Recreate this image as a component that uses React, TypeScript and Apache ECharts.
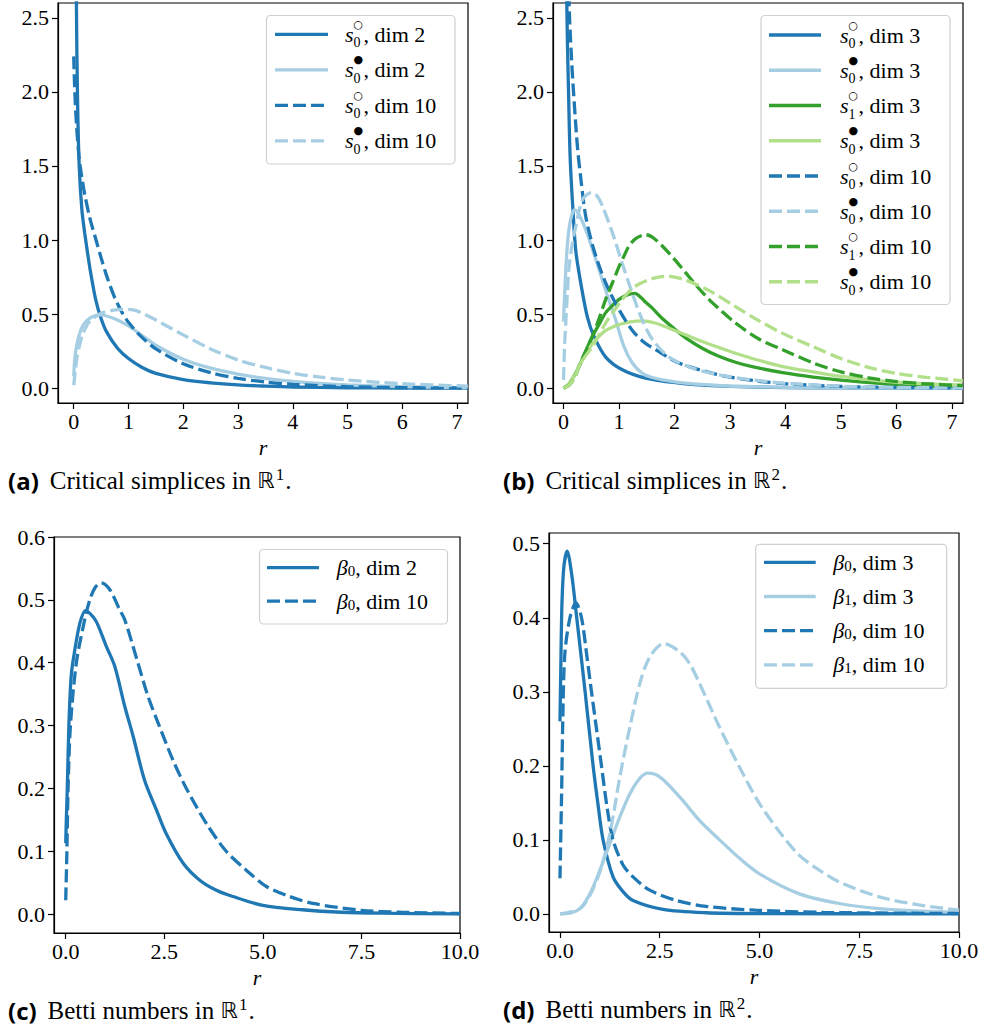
import React, { useEffect, useRef } from "react";
import * as echarts from "echarts";

const DARK_BLUE = "#1f78b4";
const LIGHT_BLUE = "#a6cee3";
const DARK_GREEN = "#33a02c";
const LIGHT_GREEN = "#b2df8a";
const SERIF = "Liberation Serif";
const SANS = "DejaVu Sans";
const BOLD_SANS = "Open Sans";

// ---------- (a) Critical simplices in R^1 : [r, value] ----------
const aS0OpenDim2 = [[0.02,4.5],[0.05,2.55],[0.07,1.95],[0.1,1.5],[0.15,1.2],[0.2,1.05],[0.25,0.92],[0.3,0.8],[0.4,0.6],[0.5,0.47],[0.6,0.38],[0.8,0.27],[1.0,0.2],[1.25,0.14],[1.5,0.1],[2.0,0.058],[2.5,0.036],[3.0,0.022],[3.5,0.014],[4.0,0.008],[5.0,0.003],[6.0,0.0012],[7.2,0.0004]];
const aS0FullDim2 = [[0,0.08],[0.02,0.2],[0.05,0.28],[0.1,0.36],[0.15,0.41],[0.2,0.44],[0.3,0.475],[0.4,0.49],[0.5,0.495],[0.6,0.487],[0.8,0.46],[1.0,0.42],[1.25,0.355],[1.5,0.29],[2.0,0.195],[2.5,0.135],[3.0,0.095],[3.5,0.066],[4.0,0.046],[4.5,0.032],[5.0,0.022],[6.0,0.01],[7.2,0.004]];
const aS0OpenDim10 = [[0,2.24],[0.02,2.0],[0.05,1.78],[0.1,1.55],[0.15,1.42],[0.2,1.31],[0.3,1.14],[0.4,1.01],[0.5,0.88],[0.6,0.76],[0.75,0.61],[0.9,0.5],[1.0,0.445],[1.2,0.36],[1.5,0.265],[2.0,0.165],[2.5,0.105],[3.0,0.066],[3.5,0.042],[4.0,0.026],[5.0,0.01],[6.0,0.004],[7.2,0.0015]];
const aS0FullDim10 = [[0,0.02],[0.03,0.12],[0.06,0.21],[0.1,0.28],[0.16,0.36],[0.25,0.43],[0.32,0.46],[0.5,0.505],[0.7,0.525],[0.9,0.532],[1.05,0.53],[1.2,0.515],[1.5,0.46],[1.75,0.41],[2.0,0.36],[2.5,0.265],[3.0,0.19],[3.5,0.14],[4.0,0.1],[4.5,0.075],[5.0,0.055],[6.0,0.03],[7.2,0.014]];

// ---------- (b) Critical simplices in R^2 ----------
const bS0OpenDim3 = [[0.02,4.5],[0.06,2.55],[0.09,2.0],[0.12,1.55],[0.17,1.2],[0.22,0.93],[0.31,0.71],[0.43,0.48],[0.55,0.35],[0.76,0.21],[1.06,0.124],[1.48,0.068],[2.08,0.034],[2.5,0.021],[3.0,0.012],[4.0,0.004],[5.0,0.0015],[7.2,0.0003]];
const bS0FullDim3 = [[0,0.45],[0.03,0.72],[0.066,0.95],[0.1,1.08],[0.15,1.17],[0.2,1.205],[0.28,1.17],[0.4,1.07],[0.58,0.87],[0.76,0.66],[0.94,0.46],[1.09,0.28],[1.24,0.17],[1.42,0.1],[1.6,0.072],[1.78,0.056],[2.2,0.034],[2.8,0.018],[3.5,0.009],[4.5,0.004],[5.5,0.002],[7.2,0.0005]];
const bS1OpenDim3 = [[0,0],[0.1,0.03],[0.2,0.09],[0.28,0.146],[0.4,0.25],[0.52,0.35],[0.64,0.43],[0.76,0.51],[0.9,0.565],[1.0,0.6],[1.15,0.63],[1.29,0.64],[1.4,0.61],[1.48,0.58],[1.6,0.54],[1.78,0.47],[2.0,0.4],[2.2,0.34],[2.5,0.27],[2.8,0.215],[3.1,0.175],[3.4,0.145],[3.95,0.105],[4.5,0.075],[5.0,0.055],[6.0,0.025],[7.2,0.01]];
const bS1FullDim3 = [[0,0],[0.1,0.03],[0.2,0.09],[0.28,0.146],[0.4,0.23],[0.52,0.3],[0.64,0.35],[0.76,0.39],[0.9,0.415],[1.0,0.43],[1.2,0.448],[1.42,0.455],[1.65,0.44],[1.9,0.405],[2.2,0.36],[2.5,0.315],[2.8,0.275],[3.1,0.236],[3.5,0.19],[3.95,0.146],[4.5,0.11],[5.0,0.08],[6.0,0.04],[7.2,0.02]];
const bS0OpenDim10 = [[0.04,4.0],[0.1,2.6],[0.14,2.25],[0.18,2.0],[0.25,1.63],[0.31,1.42],[0.4,1.16],[0.55,0.93],[0.76,0.71],[1.0,0.53],[1.24,0.39],[1.45,0.31],[1.66,0.26],[2.08,0.17],[2.69,0.1],[3.0,0.075],[3.5,0.048],[4.0,0.03],[5.0,0.012],[6.0,0.005],[7.2,0.002]];
const bS0FullDim10 = [[0,0.056],[0.02,0.3],[0.04,0.44],[0.07,0.65],[0.1,0.82],[0.16,0.98],[0.22,1.09],[0.34,1.27],[0.5,1.32],[0.6,1.3],[0.7,1.23],[0.88,1.05],[1.06,0.84],[1.24,0.64],[1.42,0.46],[1.6,0.33],[1.9,0.21],[2.33,0.135],[2.8,0.09],[3.4,0.056],[4.0,0.033],[5.0,0.013],[6.0,0.005],[7.2,0.002]];
const bS1OpenDim10 = [[0,0],[0.1,0.02],[0.2,0.07],[0.28,0.15],[0.4,0.25],[0.52,0.35],[0.64,0.47],[0.76,0.6],[0.88,0.71],[1.0,0.82],[1.1,0.9],[1.18,0.96],[1.3,1.01],[1.48,1.036],[1.6,1.02],[1.78,0.96],[2.0,0.87],[2.2,0.78],[2.4,0.69],[2.62,0.6],[2.85,0.52],[3.1,0.44],[3.53,0.33],[3.95,0.26],[4.5,0.17],[5.0,0.11],[5.5,0.07],[6.0,0.045],[6.5,0.03],[7.2,0.018]];
const bS1FullDim10 = [[0,0],[0.1,0.02],[0.2,0.07],[0.28,0.15],[0.4,0.22],[0.52,0.28],[0.76,0.44],[1.0,0.57],[1.15,0.64],[1.3,0.69],[1.6,0.74],[1.84,0.755],[2.0,0.75],[2.2,0.73],[2.62,0.66],[3.1,0.55],[3.5,0.46],[3.95,0.37],[4.5,0.28],[5.0,0.2],[5.5,0.14],[6.0,0.1],[6.5,0.075],[7.2,0.05]];

// ---------- (c) Betti numbers in R^1 ----------
const cB0Dim2 = [[0,0.113],[0.02,0.16],[0.04,0.2],[0.08,0.3],[0.14,0.38],[0.23,0.42],[0.36,0.463],[0.5,0.483],[0.62,0.478],[0.78,0.465],[1.03,0.426],[1.24,0.395],[1.5,0.33],[1.71,0.283],[2.0,0.213],[2.3,0.166],[2.55,0.128],[2.98,0.081],[3.4,0.054],[3.82,0.038],[4.24,0.028],[5.0,0.014],[6.0,0.007],[7.0,0.003],[8.0,0.0015],[10,0.0003]];
const cB0Dim10 = [[0,0.022],[0.03,0.1],[0.06,0.2],[0.12,0.3],[0.27,0.4],[0.48,0.468],[0.61,0.5],[0.75,0.52],[0.9,0.527],[1.12,0.516],[1.37,0.484],[1.5,0.468],[1.83,0.4],[2.09,0.346],[2.37,0.3],[2.72,0.245],[3.06,0.2],[3.57,0.144],[4.07,0.1],[4.58,0.07],[5.09,0.044],[5.68,0.028],[6.27,0.017],[7.5,0.006],[8.5,0.003],[10,0.001]];

// ---------- (d) Betti numbers in R^2 ----------
const dB0Dim3 = [[0,0.26],[0.02,0.33],[0.05,0.42],[0.1,0.47],[0.18,0.49],[0.29,0.46],[0.42,0.4],[0.63,0.3],[0.83,0.2],[0.96,0.145],[1.08,0.1],[1.33,0.05],[1.58,0.03],[1.83,0.018],[2.58,0.006],[3.67,0.0015],[5,0.0004],[10,0]];
const dB1Dim3 = [[0,0],[0.25,0.001],[0.5,0.007],[0.75,0.027],[1.0,0.059],[1.25,0.095],[1.5,0.131],[1.75,0.162],[2.0,0.183],[2.2,0.19],[2.5,0.185],[3.0,0.158],[3.5,0.126],[4.0,0.1],[4.5,0.075],[5.0,0.054],[6.0,0.027],[7.0,0.014],[8.0,0.007],[9.0,0.004],[10,0.002]];
const dB0Dim10 = [[0,0.048],[0.04,0.16],[0.07,0.26],[0.12,0.35],[0.25,0.4],[0.4,0.42],[0.54,0.4],[0.67,0.35],[0.79,0.3],[0.92,0.248],[1.04,0.2],[1.18,0.144],[1.33,0.1],[1.58,0.066],[1.83,0.05],[2.25,0.032],[2.92,0.018],[3.67,0.01],[4.9,0.005],[6.6,0.002],[10,0.0005]];
const dB1Dim10 = [[0,0],[0.5,0.007],[0.75,0.025],[1.0,0.057],[1.25,0.108],[1.5,0.185],[1.75,0.252],[2.0,0.311],[2.25,0.347],[2.6,0.365],[3.0,0.354],[3.25,0.338],[3.5,0.311],[4.0,0.252],[4.5,0.198],[5.0,0.149],[5.5,0.111],[6.0,0.079],[6.5,0.059],[7.0,0.043],[8.0,0.023],[9.0,0.012],[10,0.005]];

// ---------- tick labels ----------
const ticksR7 = [0, 1, 2, 3, 4, 5, 6, 7];
const ticksR10 = [0, 2.5, 5, 7.5, 10];
const ticksCrit = [0, 0.5, 1, 1.5, 2, 2.5];
const ticksBetti1 = [0, 0.1, 0.2, 0.3, 0.4, 0.5, 0.6];
const ticksBetti2 = [0, 0.1, 0.2, 0.3, 0.4, 0.5];

const DASH = [13, 5];
const LW = 3.3;

function sLabel(k: string, filled: boolean, dim: string) {
  return filled
    ? `{it|s}{supf|●}{sub|${k}}{t|, dim ${dim}}`
    : `{it|s}{supo|○}{sub|${k}}{t|, dim ${dim}}`;
}
function bLabel(k: string, dim: string) {
  return `{it|β}{subb|${k}}{t|, dim ${dim}}`;
}

type Entry = { data: number[][]; color: string; dashed: boolean; label: string };

const panels = [
  {
    grid: { left: 58, top: 3, width: 410, height: 400 },
    xMin: -0.287, xMax: 7.2, xTicks: ticksR7, xDec: 0,
    yMin: -0.1, yMax: 2.6, yTicks: ticksCrit,
    entries: [
      { data: aS0OpenDim2, color: DARK_BLUE, dashed: false, label: sLabel("0", false, "2") },
      { data: aS0FullDim2, color: LIGHT_BLUE, dashed: false, label: sLabel("0", true, "2") },
      { data: aS0OpenDim10, color: DARK_BLUE, dashed: true, label: sLabel("0", false, "10") },
      { data: aS0FullDim10, color: LIGHT_BLUE, dashed: true, label: sLabel("0", true, "10") },
    ] as Entry[],
    legend: { x: 266.5, y: 15.5, w: 188.5, h: 148.5, row0: 34.3, pitch: 35.5, lx1: 275, lx2: 328, tx: 345 },
    caption: { x: 8, y: 480, tag: "(a)", text: "Critical simplices in ", sup: "1" },
  },
  {
    grid: { left: 553, top: 3, width: 410, height: 400 },
    xMin: -0.19, xMax: 7.2, xTicks: ticksR7, xDec: 0,
    yMin: -0.1, yMax: 2.6, yTicks: ticksCrit,
    entries: [
      { data: bS0OpenDim3, color: DARK_BLUE, dashed: false, label: sLabel("0", false, "3") },
      { data: bS0FullDim3, color: LIGHT_BLUE, dashed: false, label: sLabel("0", true, "3") },
      { data: bS1OpenDim3, color: DARK_GREEN, dashed: false, label: sLabel("1", false, "3") },
      { data: bS1FullDim3, color: LIGHT_GREEN, dashed: false, label: sLabel("0", true, "3") },
      { data: bS0OpenDim10, color: DARK_BLUE, dashed: true, label: sLabel("0", false, "10") },
      { data: bS0FullDim10, color: LIGHT_BLUE, dashed: true, label: sLabel("0", true, "10") },
      { data: bS1OpenDim10, color: DARK_GREEN, dashed: true, label: sLabel("1", false, "10") },
      { data: bS1FullDim10, color: LIGHT_GREEN, dashed: true, label: sLabel("0", true, "10") },
    ] as Entry[],
    legend: { x: 761, y: 15.5, w: 189, h: 289, row0: 35, pitch: 35.25, lx1: 769, lx2: 821, tx: 840 },
    caption: { x: 503, y: 480, tag: "(b)", text: "Critical simplices in ", sup: "2" },
  },
  {
    grid: { left: 54, top: 537, width: 406, height: 396 },
    xMin: -0.297, xMax: 10, xTicks: ticksR10, xDec: 1,
    yMin: -0.03, yMax: 0.6, yTicks: ticksBetti1,
    entries: [
      { data: cB0Dim2, color: DARK_BLUE, dashed: false, label: bLabel("0", "2") },
      { data: cB0Dim10, color: DARK_BLUE, dashed: true, label: bLabel("0", "10") },
    ] as Entry[],
    legend: { x: 259.5, y: 549.5, w: 188, h: 74.5, row0: 567.7, pitch: 33.5, lx1: 267, lx2: 319, tx: 336.7 },
    caption: { x: 8, y: 1010, tag: "(c)", text: "Betti numbers in ", sup: "1" },
  },
  {
    grid: { left: 549, top: 533, width: 410, height: 399 },
    xMin: -0.275, xMax: 10, xTicks: ticksR10, xDec: 1,
    yMin: -0.0245, yMax: 0.5145, yTicks: ticksBetti2,
    entries: [
      { data: dB0Dim3, color: DARK_BLUE, dashed: false, label: bLabel("0", "3") },
      { data: dB1Dim3, color: LIGHT_BLUE, dashed: false, label: bLabel("1", "3") },
      { data: dB0Dim10, color: DARK_BLUE, dashed: true, label: bLabel("0", "10") },
      { data: dB1Dim10, color: LIGHT_BLUE, dashed: true, label: bLabel("1", "10") },
    ] as Entry[],
    legend: { x: 755.7, y: 544.3, w: 191, h: 144, row0: 562.3, pitch: 34.2, lx1: 764, lx2: 815.7, tx: 833.3 },
    caption: { x: 503, y: 1009.5, tag: "(d)", text: "Betti numbers in ", sup: "2" },
  },
];

const legendRich = {
  it: { fontFamily: SERIF, fontStyle: "italic", fontSize: 22, lineHeight: 26, fill: "#000" },
  supo: { fontFamily: SANS, fontSize: 11, width: 0, padding: [0, 0, 20, 0], lineHeight: 26, fill: "#000" },
  supf: { fontFamily: SANS, fontSize: 11, width: 0, padding: [0, 0, 20, 0], lineHeight: 26, fill: "#000" },
  sub: { fontFamily: SERIF, fontSize: 14, padding: [17, 3, 0, 0], lineHeight: 26, fill: "#000" },
  subb: { fontFamily: SERIF, fontSize: 15, padding: [7, 0, 0, 0], lineHeight: 26, fill: "#000" },
  t: { fontFamily: SERIF, fontSize: 22, lineHeight: 26, fill: "#000" },
};

const capRich = {
  b: { fontFamily: BOLD_SANS, fontWeight: "bold", fontSize: 24, padding: [0, 11, 0, 0], lineHeight: 30, fill: "#000" },
  t: { fontFamily: SERIF, fontSize: 25, lineHeight: 30, fill: "#000" },
  bb: { fontFamily: SANS, fontSize: 22, lineHeight: 30, fill: "#000" },
  sup: { fontFamily: SERIF, fontSize: 17, padding: [0, 1, 12, 1], lineHeight: 30, fill: "#000" },
};

function buildOption() {
  const axisText = { fontFamily: SERIF, fontSize: 22, color: "#000" };
  const grid = panels.map((p) => ({ ...p.grid, show: true, borderColor: "#000", borderWidth: 1.2 }));
  const xAxis = panels.map((p, i) => ({
    type: "value", gridIndex: i, min: p.xMin, max: p.xMax,
    name: "r", nameLocation: "middle", nameGap: 33,
    nameTextStyle: { fontFamily: SERIF, fontStyle: "italic", fontSize: 22, color: "#000" },
    axisLine: { show: true, onZero: false, lineStyle: { color: "#000", width: 1.2 } },
    axisTick: { show: true, inside: false, length: 6, customValues: p.xTicks, lineStyle: { color: "#000", width: 1.2 } },
    axisLabel: {
      ...axisText, margin: 7, customValues: p.xTicks,
      formatter: (v: number) => (p.xDec === 0 ? String(Math.round(v)) : v.toFixed(1)),
    },
    splitLine: { show: false },
  }));
  const yAxis = panels.map((p, i) => ({
    type: "value", gridIndex: i, min: p.yMin, max: p.yMax,
    axisLine: { show: true, onZero: false, lineStyle: { color: "#000", width: 1.2 } },
    axisTick: { show: true, inside: false, length: 6, customValues: p.yTicks, lineStyle: { color: "#000", width: 1.2 } },
    axisLabel: { ...axisText, margin: 9, customValues: p.yTicks, formatter: (v: number) => v.toFixed(1) },
    splitLine: { show: false },
  }));
  const series: any[] = [];
  const graphic: any[] = [];
  panels.forEach((p, i) => {
    p.entries.forEach((e, j) => {
      series.push({
        type: "line", name: `p${i}-${j}`, xAxisIndex: i, yAxisIndex: i, data: e.data,
        showSymbol: false, symbol: "none", smooth: 0.3, clip: true, silent: true,
        lineStyle: { color: e.color, width: LW, type: e.dashed ? DASH : "solid" },
        itemStyle: { color: e.color }, z: 2 + j,
      });
    });
    const L = p.legend;
    graphic.push({
      type: "rect", z: 100, silent: true,
      shape: { x: L.x, y: L.y, width: L.w, height: L.h, r: 4 },
      style: { fill: "rgba(255,255,255,0.8)", stroke: "#cfcfcf", lineWidth: 1.2 },
    });
    p.entries.forEach((e, j) => {
      const y = L.row0 + j * L.pitch;
      graphic.push({
        type: "line", z: 101, silent: true,
        shape: { x1: L.lx1, y1: y, x2: L.lx2, y2: y },
        style: { stroke: e.color, lineWidth: LW, lineDash: e.dashed ? DASH : null },
      });
      graphic.push({
        type: "text", z: 101, silent: true, x: L.tx, y,
        style: { text: e.label, rich: legendRich, fontFamily: SERIF, fontSize: 22, fill: "#000", align: "left", verticalAlign: "middle" },
      });
    });
    const c = p.caption;
    graphic.push({
      type: "text", z: 101, silent: true, x: c.x, y: c.y,
      style: {
        text: `{b|${c.tag}}{t|${c.text}}{bb|ℝ}{sup|${c.sup}}{t|.}`,
        rich: capRich, fontFamily: SERIF, fontSize: 25, fill: "#000", align: "left", verticalAlign: "middle",
      },
    });
  });
  return { animation: false, backgroundColor: "#fff", grid, xAxis, yAxis, series, graphic };
}

export default function App() {
  const ref = useRef<HTMLDivElement>(null);
  useEffect(() => {
    if (!ref.current) return;
    const chart = echarts.init(ref.current, undefined, { renderer: "svg" });
    chart.setOption(buildOption() as any);
    return () => chart.dispose();
  }, []);
  return (
    <div
      ref={ref}
      style={{ position: "absolute", left: 0, top: 0, width: 982, height: 1028, background: "#fff" }}
    />
  );
}
